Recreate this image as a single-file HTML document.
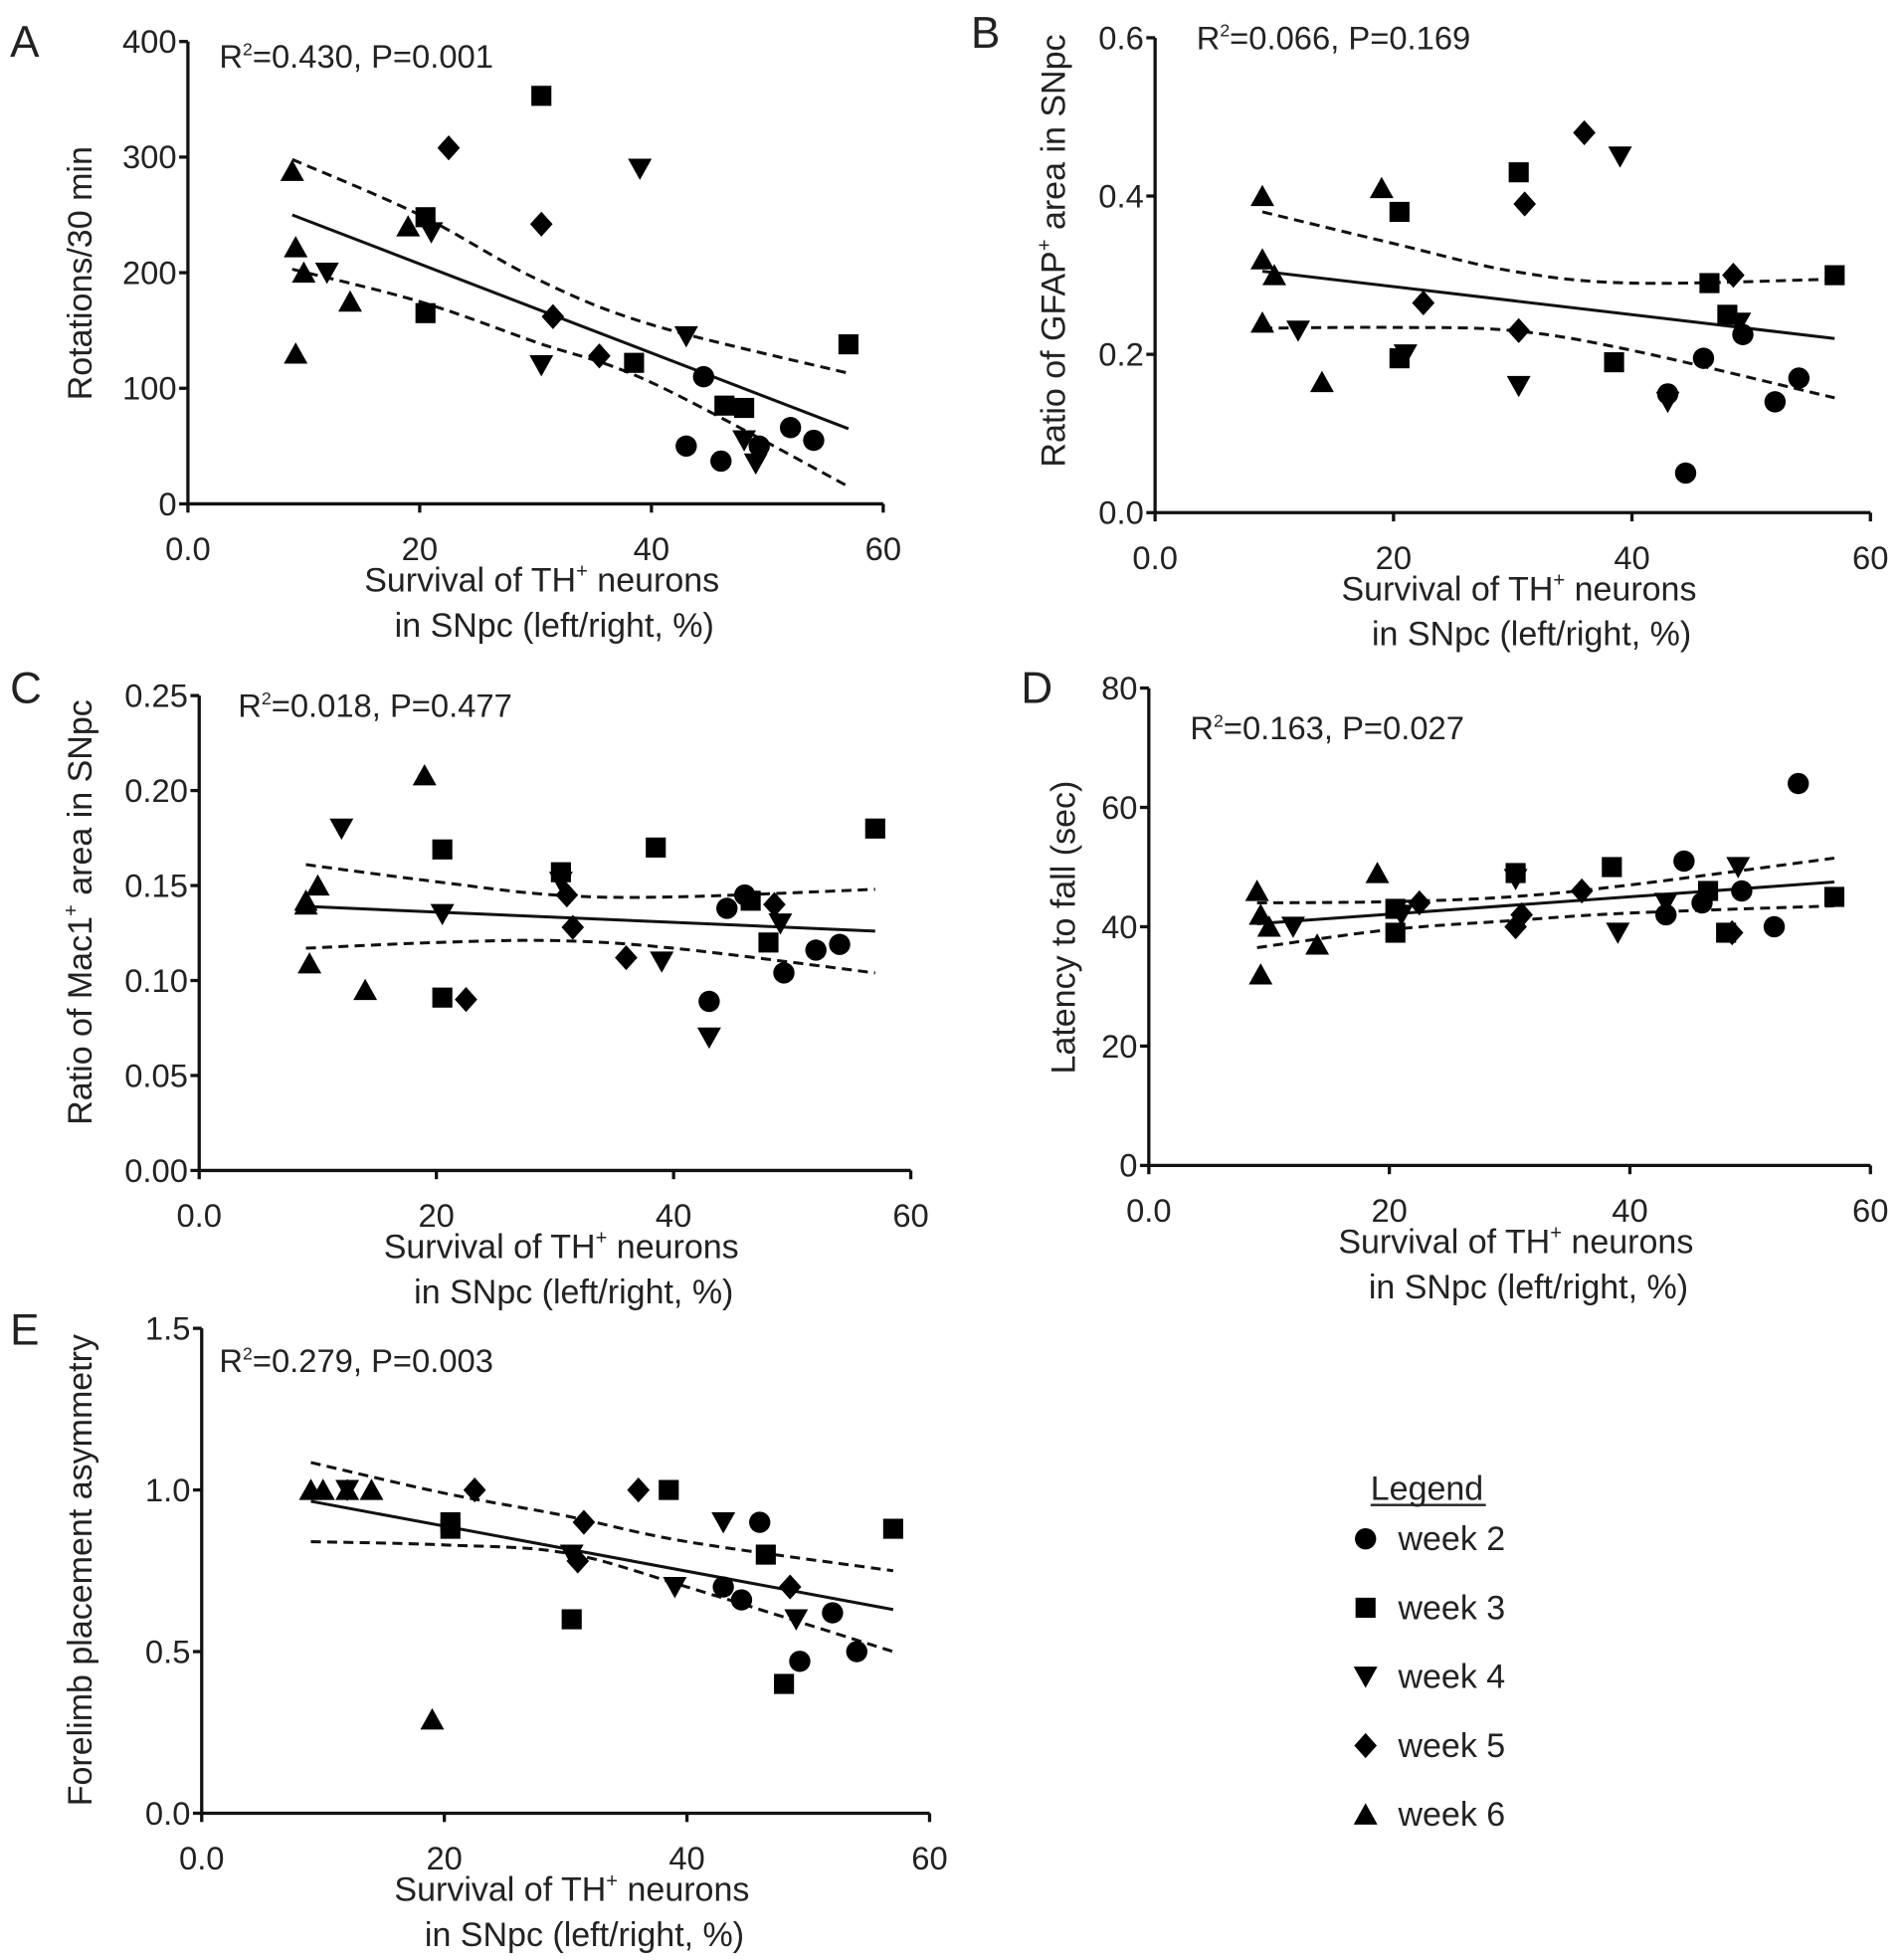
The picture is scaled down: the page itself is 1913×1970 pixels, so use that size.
<!DOCTYPE html>
<html><head><meta charset="utf-8"><style>
html,body{margin:0;padding:0;background:#fff}
svg{display:block}
text{font-family:"Liberation Sans",Arial,sans-serif;fill:#222}
</style></head><body>
<svg id="fig" xmlns="http://www.w3.org/2000/svg" width="1913" height="1970" viewBox="0 0 1519 1564"></svg>
<script>
// Shared x values per week group (survival of TH+ neurons, %)
const weekNames = ["week 2","week 3","week 4","week 5","week 6"];
const shapes = ["circle","square","down","diamond","up"];
const xTicks = [0,20,40,60];
const xTickLabels = ["0.0","20","40","60"];

// Panel A: rotations
const aX = [[43,44.5,46,49.3,52,54],[20.5,20.5,30.5,38.5,46.3,48,57],[12,21,30.5,39,43,48,49],[22.5,30.5,31.5,35.5],[9,9.3,10,9.3,14,19]];
const aY = [[50,110,37,50,66,55],[248,165,353,122,85,83,138],[200,235,120,290,145,55,35],[308,242,162,128],[288,222,200,130,175,240]];
const aFit = [[9,250],[57,65]];
const aUpper = [[9,298],[20,250],[30,195],[40,155],[57,113]];
const aLower = [[9,203],[20,175],[30,140],[40,105],[57,15]];
const aYTicks = [0,100,200,300,400];
const aYTickLabels = ["0","100","200","300","400"];

// Panel B: GFAP
const bX = [[43,44.5,46,49.3,52,54],[20.5,20.5,30.5,38.5,46.5,48,57],[12,21,30.5,39,43,49],[22.5,30.5,31,36,48.5],[9,9,10,9,14,19]];
const bY = [[0.15,0.05,0.195,0.225,0.14,0.17],[0.38,0.195,0.43,0.19,0.29,0.25,0.3],[0.23,0.2,0.16,0.45,0.14,0.24],[0.265,0.23,0.39,0.48,0.3],[0.4,0.32,0.3,0.24,0.165,0.41]];
const bFit = [[9,0.305],[57,0.22]];
const bUpper = [[9,0.38],[20,0.34],[30,0.305],[40,0.29],[57,0.295]];
const bLower = [[9,0.233],[20,0.234],[30,0.23],[40,0.205],[57,0.145]];
const bYTicks = [0,0.2,0.4,0.6];
const bYTickLabels = ["0.0","0.2","0.4","0.6"];

// Panel C: Mac1
const cX = [[43,44.5,46,49.3,52,54],[20.5,20.5,30.5,38.5,46.5,48,57],[12,20.5,30.5,39,43,49],[22.5,31,31.5,36,48.5],[9,10,9.3,14,19,9]];
const cY = [[0.089,0.138,0.145,0.104,0.116,0.119],[0.169,0.091,0.157,0.17,0.142,0.12,0.18],[0.18,0.135,0.152,0.11,0.07,0.13],[0.09,0.145,0.128,0.112,0.14],[0.142,0.15,0.109,0.095,0.208,0.14]];
const cFit = [[9,0.139],[57,0.126]];
const cUpper = [[9,0.161],[20,0.152],[30,0.145],[40,0.144],[57,0.148]];
const cLower = [[9,0.117],[20,0.12],[30,0.121],[40,0.117],[57,0.104]];
const cYTicks = [0,0.05,0.1,0.15,0.2,0.25];
const cYTickLabels = ["0.00","0.05","0.10","0.15","0.20","0.25"];

// Panel D: latency
const dX = [[43,44.5,46,49.3,52,54],[20.5,20.5,30.5,38.5,46.5,48,57],[12,21,30.5,39,43,49],[22.5,30.5,31,36,48.5],[9,9.3,10,9.3,14,19]];
const dY = [[42,51,44,46,40,64],[43,39,49,50,46,39,45],[40,42,48,39,44,50],[44,40,42,46,39],[46,42,40,32,37,49]];
const dFit = [[9,40.5],[57,47.5]];
const dUpper = [[9,44],[20,44.2],[30,45],[40,47],[57,51.5]];
const dLower = [[9,36.5],[20,39.5],[30,41],[40,42.3],[57,43.5]];
const dYTicks = [0,20,40,60,80];
const dYTickLabels = ["0","20","40","60","80"];

// Panel E: forelimb
const eX = [[43,44.5,46,49.3,52,54],[20.5,20.5,30.5,38.5,46.5,48,57],[12,30.5,39,43,49],[22.5,31,31.5,36,48.5],[9,10,12,14,19]];
const eY = [[0.7,0.66,0.9,0.47,0.62,0.5],[0.9,0.88,0.6,1.0,0.8,0.4,0.88],[1.0,0.8,0.7,0.9,0.6],[1.0,0.78,0.9,1.0,0.7],[1.0,1.0,1.0,1.0,0.29]];
const eFit = [[9,0.965],[57,0.63]];
const eUpper = [[9,1.085],[20,0.99],[30,0.92],[40,0.84],[57,0.75]];
const eLower = [[9,0.84],[20,0.83],[30,0.805],[40,0.7],[57,0.5]];
const eYTicks = [0,0.5,1.0,1.5];
const eYTickLabels = ["0.0","0.5","1.0","1.5"];

const NS="http://www.w3.org/2000/svg";
const svg=document.getElementById('fig');
function mk(tag,attrs,parent){const e=document.createElementNS(NS,tag);for(const k in attrs)e.setAttribute(k,attrs[k]);(parent||svg).appendChild(e);return e;}

function marker(g,shape,cx,cy){
  const s=8;let e;
  if(shape==="circle") e=mk('circle',{cx:cx,cy:cy,r:8.5,fill:'#000'},g);
  else if(shape==="square") e=mk('rect',{x:cx-s,y:cy-s,width:2*s,height:2*s,fill:'#000'},g);
  else if(shape==="down") e=mk('polygon',{points:`${cx-9.5},${cy-8} ${cx+9.5},${cy-8} ${cx},${cy+9}`,fill:'#000'},g);
  else if(shape==="up") e=mk('polygon',{points:`${cx-9.5},${cy+8} ${cx+9.5},${cy+8} ${cx},${cy-9}`,fill:'#000'},g);
  else e=mk('polygon',{points:`${cx},${cy-10} ${cx+9},${cy} ${cx},${cy+10} ${cx-9},${cy}`,fill:'#000'},g);
  return e;
}
function smoothPath(pts){
  let d=`M${pts[0][0]},${pts[0][1]}`;
  for(let i=0;i<pts.length-1;i++){
    const p0=pts[i-1]||pts[i],p1=pts[i],p2=pts[i+1],p3=pts[i+2]||p2;
    const c1=[p1[0]+(p2[0]-p0[0])/6,p1[1]+(p2[1]-p0[1])/6];
    const c2=[p2[0]-(p3[0]-p1[0])/6,p2[1]-(p3[1]-p1[1])/6];
    d+=` C${c1[0]},${c1[1]} ${c2[0]},${c2[1]} ${p2[0]},${p2[1]}`;
  }
  return d;
}

function panel(cfg){
  const g=mk('g',{});
  
  
  const ymax=cfg.yTicks[cfg.yTicks.length-1];
  const sx=v=>cfg.x0+(v/60)*(cfg.x60-cfg.x0);
  const sy=v=>cfg.y0-(v/ymax)*(cfg.y0-cfg.ytop);
  const ax=mk('path',{d:`M${cfg.x0},${cfg.ytop} L${cfg.x0},${cfg.y0} L${cfg.x60},${cfg.y0}`,fill:'none',stroke:'#111','stroke-width':2.6},g);
  
  
  cfg.yTicks.forEach((v,i)=>{
    mk('line',{x1:cfg.x0-7,x2:cfg.x0,y1:sy(v),y2:sy(v),stroke:'#111','stroke-width':2.6},g);
    const t=mk('text',{x:cfg.x0-9,y:sy(v)+9,'text-anchor':'end','font-size':26},g);
    t.textContent=cfg.yLabels[i];
    
    
  });
  xTicks.forEach((v,i)=>{
    mk('line',{x1:sx(v),x2:sx(v),y1:cfg.y0,y2:cfg.y0+7,stroke:'#111','stroke-width':2.6},g);
    const t=mk('text',{x:sx(v),y:cfg.y0+45,'text-anchor':'middle','font-size':26},g);
    t.textContent=xTickLabels[i];
    
    
  });
  const fit=mk('line',{x1:sx(cfg.fit[0][0]),y1:sy(cfg.fit[0][1]),x2:sx(cfg.fit[1][0]),y2:sy(cfg.fit[1][1]),stroke:'#111','stroke-width':2.4},g);
  
  
  [cfg.upper,cfg.lower].forEach((arr,k)=>{
    const p=mk('path',{d:smoothPath(arr.map(q=>[sx(q[0]),sy(q[1])])),fill:'none',stroke:'#111','stroke-width':2.4,'stroke-dasharray':'8,5'},g);
    
    
  });
  cfg.xs.forEach((xs,w)=>{
    xs.forEach((xv,i)=>{
      const m=marker(g,shapes[w],sx(xv),sy(cfg.ys[w][i]));
      
      
    });
  });
  const an=mk('text',{x:cfg.ann[0],y:cfg.ann[1],'font-size':26},g);
  an.innerHTML='R<tspan font-size="14" dy="-10">2</tspan><tspan dy="10">=' + cfg.annText + '</tspan>';
  
  
  const cx=(cfg.x0+cfg.x60)/2+5;
  const t1=mk('text',{x:cx,y:cfg.y0+70,'text-anchor':'middle','font-size':27},g);
  t1.innerHTML='Survival of TH<tspan font-size="16" dy="-11">+</tspan><tspan dy="11"> neurons</tspan>';
  
  
  const t2=mk('text',{x:cx+10,y:cfg.y0+106,'text-anchor':'middle','font-size':27},g);
  t2.textContent='in SNpc (left/right, %)';
  
  
  const yt=mk('text',{x:0,y:0,'text-anchor':'middle','font-size':27,transform:`translate(${cfg.ytx},${cfg.yty}) rotate(-90)`},g);
  yt.innerHTML=cfg.yTitle;
  
  
  const L=mk('text',{x:cfg.letter[0],y:cfg.letter[1],'font-size':35},g);
  L.textContent=cfg.letterText;
  
  
}

panel({name:'panel-a',x0:150,x60:705,y0:402,ytop:33,yTicks:aYTicks,yLabels:aYTickLabels,xs:aX,ys:aY,fit:aFit,upper:aUpper,lower:aLower,
  ann:[175,54],annText:'0.430, P=0.001',ytx:73,yty:218,yTitle:'Rotations/30 min',letter:[8,45],letterText:'A'});
panel({name:'panel-b',x0:922,x60:1493,y0:409,ytop:30,yTicks:bYTicks,yLabels:bYTickLabels,xs:bX,ys:bY,fit:bFit,upper:bUpper,lower:bLower,
  ann:[955,39],annText:'0.066, P=0.169',ytx:850,yty:200,yTitle:'Ratio of GFAP<tspan font-size="16" dy="-11">+</tspan><tspan dy="11"> area in SNpc</tspan>',letter:[775,38],letterText:'B'});
panel({name:'panel-c',x0:159,x60:727,y0:934,ytop:555,yTicks:cYTicks,yLabels:cYTickLabels,xs:cX,ys:cY,fit:cFit,upper:cUpper,lower:cLower,
  ann:[190,572],annText:'0.018, P=0.477',ytx:73,yty:728,yTitle:'Ratio of Mac1<tspan font-size="16" dy="-11">+</tspan><tspan dy="11"> area in SNpc</tspan>',letter:[8,561],letterText:'C'});
panel({name:'panel-d',x0:917,x60:1493,y0:930,ytop:549,yTicks:dYTicks,yLabels:dYTickLabels,xs:dX,ys:dY,fit:dFit,upper:dUpper,lower:dLower,
  ann:[950,590],annText:'0.163, P=0.027',ytx:858,yty:740,yTitle:'Latency to fall (sec)',letter:[815,561],letterText:'D'});
panel({name:'panel-e',x0:161,x60:742,y0:1447,ytop:1060,yTicks:eYTicks,yLabels:eYTickLabels,xs:eX,ys:eY,fit:eFit,upper:eUpper,lower:eLower,
  ann:[175,1095],annText:'0.279, P=0.003',ytx:73,yty:1253,yTitle:'Forelimb placement asymmetry',letter:[8,1073],letterText:'E'});

const lg=mk('g',{});


const lt=mk('text',{x:1094,y:1197,'font-size':27},lg);
lt.textContent='Legend';


mk('line',{x1:1094,x2:1186,y1:1201,y2:1201,stroke:'#222','stroke-width':1.8},lg);
weekNames.forEach((n,i)=>{
  const y=1228+i*55;
  const m=marker(lg,shapes[i],1090,y);
  
  
  const t=mk('text',{x:1116,y:y+9,'font-size':27},lg);
  t.textContent=n;
  
  
});
</script>
</body></html>
